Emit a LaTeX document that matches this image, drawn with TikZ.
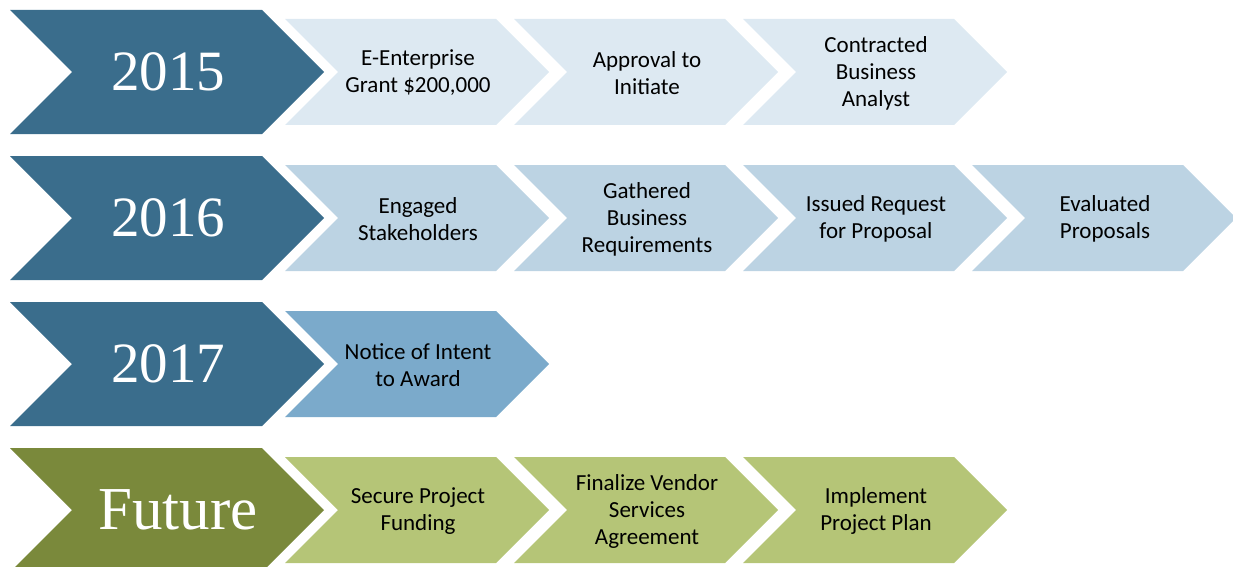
\documentclass[tikz,border=0pt]{standalone}
\usepackage{fontspec}
\newfontfamily\stepfont{Carlito}
\newfontfamily\yearfont{Liberation Serif}
\usetikzlibrary{calc}

\definecolor{yearblue}{RGB}{58,109,140}
\definecolor{yeargreen}{RGB}{122,137,59}
\definecolor{rowone}{RGB}{221,233,242}
\definecolor{rowtwo}{RGB}{188,211,227}
\definecolor{rowthree}{RGB}{123,170,203}
\definecolor{rowfour}{RGB}{181,197,119}

\begin{document}
\begin{tikzpicture}[
    x=1pt, y=-1pt,
    yeartext/.style={text=white, font=\yearfont\fontsize{57}{60}\selectfont},
    steptext/.style={align=center, text=black, font=\stepfont\fontsize{23}{27}\selectfont}
]

% chevron: colour, left x, centre y, top edge length, half height
\def\chevron#1#2#3#4#5{%
  \fill[#1] (#2,#3-#5) -- ++(#4,0) -- ++(#5,#5) -- ++(-#5,#5)
    -- ++(-#4,0) -- ++(#5,-#5) -- cycle;}

\useasboundingbox (0,0) rectangle (1233,567);

% --- Year chevrons ---
\chevron{yearblue}{10}{72}{252}{62}
\chevron{yearblue}{10}{218}{252}{62}
\chevron{yearblue}{10}{364}{252}{62}
\chevron{yeargreen}{10}{510}{252}{62}

\node[yeartext] (y2015) at (168,72) {2015};
\node[yeartext] (y2016) at (168,218) {2016};
\node[yeartext] (y2017) at (168,364) {2017};
\node[yeartext, font=\yearfont\fontsize{61}{64}\selectfont] (future) at (178,510) {Future};

% --- 2015 steps ---
\chevron{rowone}{285}{72}{211}{53}
\chevron{rowone}{514}{72}{211}{53}
\chevron{rowone}{743}{72}{211}{53}

\node[steptext] (grant) at (418,73) {E-Enterprise\\Grant \$200,000};
\node[steptext] (approval) at (647,73) {Approval to\\Initiate};
\node[steptext] (analyst) at (876,73) {Contracted\\Business\\Analyst};

% --- 2016 steps ---
\chevron{rowtwo}{285}{218}{211}{53}
\chevron{rowtwo}{514}{218}{211}{53}
\chevron{rowtwo}{743}{218}{211}{53}
\chevron{rowtwo}{972}{218}{211}{53}

\node[steptext] (engaged) at (418,219) {Engaged\\Stakeholders};
\node[steptext] (gathered) at (647,219) {Gathered\\Business\\Requirements};
\node[steptext] (request) at (876,219) {Issued Request\\for Proposal};
\node[steptext] (evaluated) at (1105,219) {Evaluated\\Proposals};

% --- 2017 steps ---
\chevron{rowthree}{285}{364}{211}{53}

\node[steptext] (intent) at (418,365) {Notice of Intent\\to Award};

% --- Future steps ---
\chevron{rowfour}{285}{510}{211}{53}
\chevron{rowfour}{514}{510}{211}{53}
\chevron{rowfour}{743}{510}{211}{53}

\node[steptext] (funding) at (418,511) {Secure Project\\Funding};
\node[steptext] (vendor) at (647,511) {Finalize Vendor\\Services\\Agreement};
\node[steptext] (plan) at (876,511) {Implement\\Project Plan};

\end{tikzpicture}
\end{document}
